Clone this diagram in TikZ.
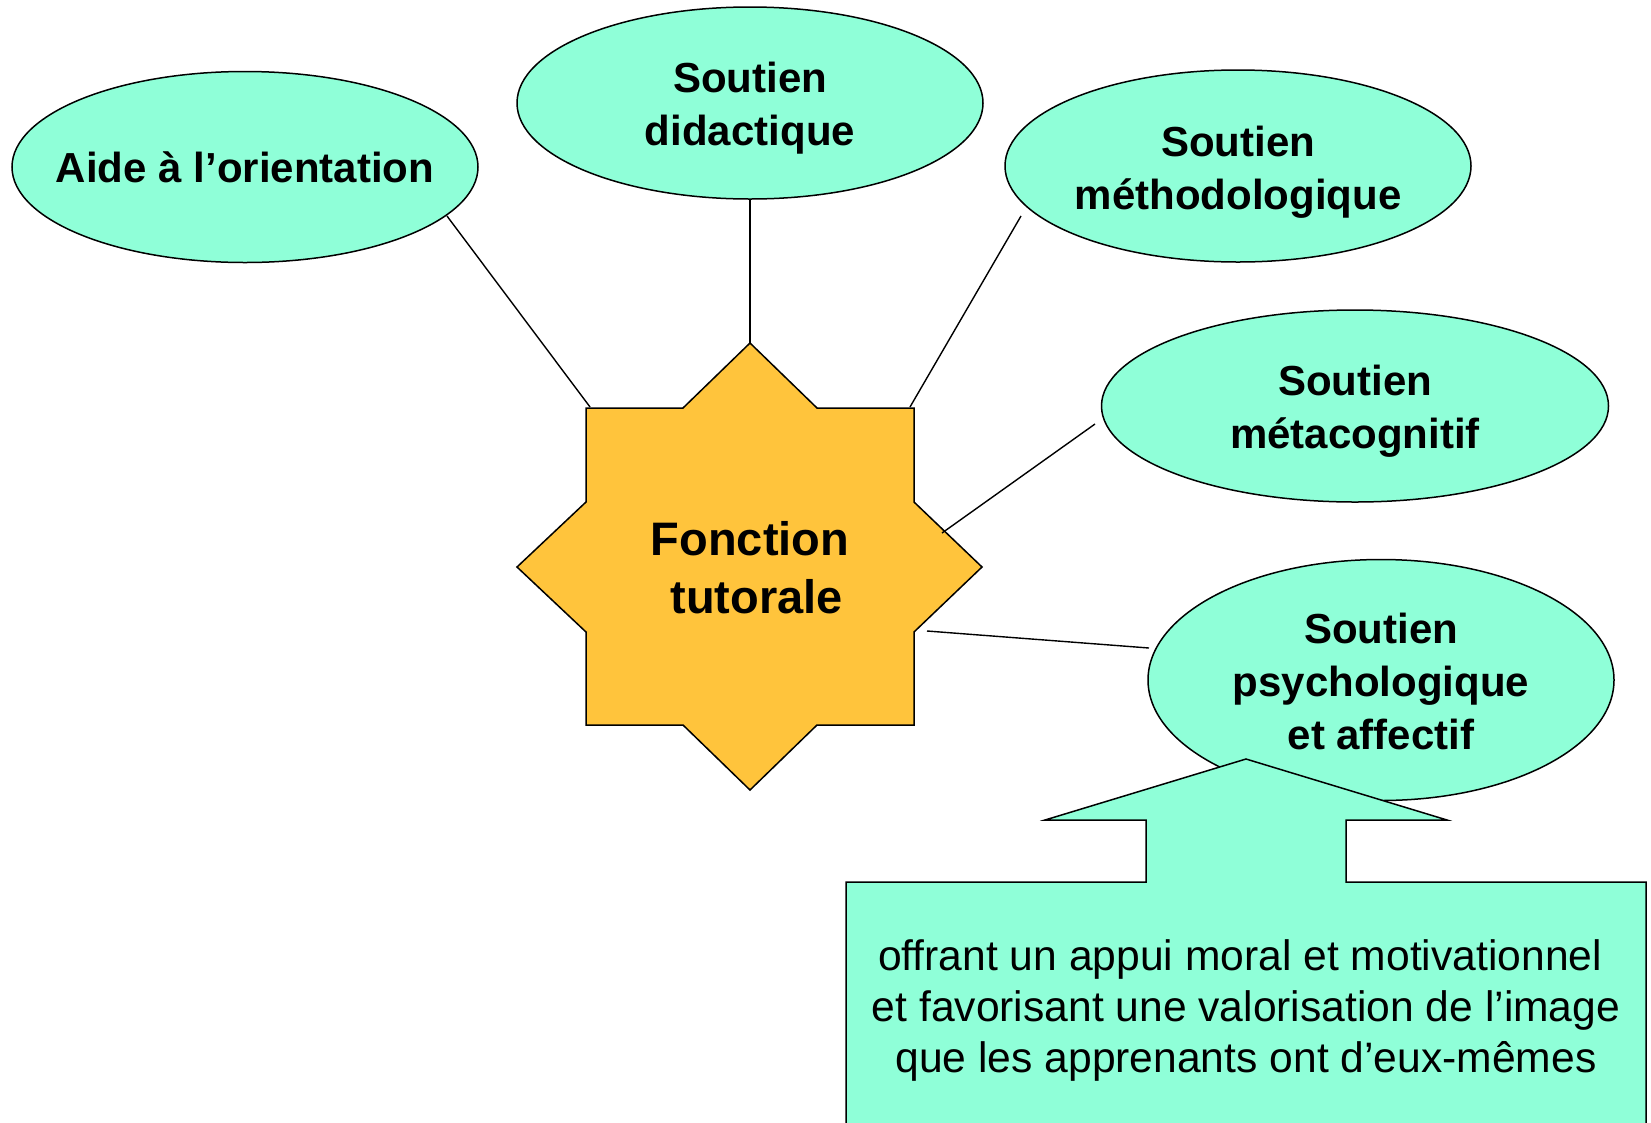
\documentclass[tikz,border=0pt]{standalone}
\usepackage{fontspec}
\setmainfont{Liberation Sans}
\usetikzlibrary{shapes.geometric}
\definecolor{mint}{RGB}{143,255,216}
\definecolor{gold}{RGB}{255,196,60}
\begin{document}
\begin{tikzpicture}[x=1pt,y=-1pt,
  bub/.style={ellipse, draw, fill=mint, line width=1.5pt, inner sep=0pt},
  btxt/.style={align=center, inner sep=0pt, font=\fontsize{42}{53}\selectfont\bfseries},
  conn/.style={draw, line width=1.4pt}]
\useasboundingbox (0,0) rectangle (1651,1122);
% ellipses
\node[bub, minimum width=466pt, minimum height=191pt] (aide) at (245,167) {};
\node[bub, minimum width=466pt, minimum height=192pt] (didac) at (750,103) {};
\node[bub, minimum width=466pt, minimum height=192pt] (metho) at (1238,166) {};
\node[bub, minimum width=507pt, minimum height=192pt] (meta) at (1355,406) {};
\node[bub, minimum width=466pt, minimum height=241pt] (psy) at (1381,680) {};
\node[btxt] (aideT) at (245,167) {Aide à l’orientation};
\node[btxt] (didacT) at (750,108) {Soutien\\didactique};
\node[btxt] (methoT) at (1238,172) {Soutien\\méthodologique};
\node[btxt] (metaT) at (1355,411) {Soutien\\métacognitif};
\node[btxt] (psyT) at (1381,681) {Soutien\\psychologique\\et affectif};
% star
\draw[fill=gold, line width=1.5pt]
  (750,343) -- (817,408) -- (914,408) -- (914,502) -- (982,567) -- (914,632) -- (914,725) -- (817,725)
  -- (750,790) -- (683,725) -- (586,725) -- (586,632) -- (517,567) -- (586,502) -- (586,408) -- (683,408) -- cycle;
\node[align=center, font=\fontsize{47}{58}\selectfont\bfseries] (fonction) at (750,568) {Fonction\\\hspace*{0.278em}tutorale};
% connector end points
\coordinate (sA) at (447,216);  \coordinate (tA) at (590,407);
\coordinate (sB) at (750,199);  \coordinate (tB) at (750,343);
\coordinate (sC) at (1021,216); \coordinate (tC) at (910,407);
\coordinate (sD) at (1095,424); \coordinate (tD) at (942,533);
\coordinate (sE) at (1149,648); \coordinate (tE) at (927,631);
\draw[conn] (sA) -- (tA);
\draw[conn] (sB) -- (tB);
\draw[conn] (sC) -- (tC);
\draw[conn] (sD) -- (tD);
\draw[conn] (sE) -- (tE);
% callout
\draw[fill=mint, line width=1.5pt]
  (846,1140) -- (846,882) -- (1146,882) -- (1146,820) -- (1045,820) -- (1246,759) -- (1447,820)
  -- (1346,820) -- (1346,882) -- (1646,882) -- (1646,1140);
\node[align=center, font=\fontsize{42.6}{51}\selectfont] (callout) at (1246,1010)
  {offrant un appui moral et motivationnel\hspace*{0.278em}\\et favorisant une valorisation de l’image\\que les apprenants ont d’eux-mêmes};
\end{tikzpicture}
\end{document}
